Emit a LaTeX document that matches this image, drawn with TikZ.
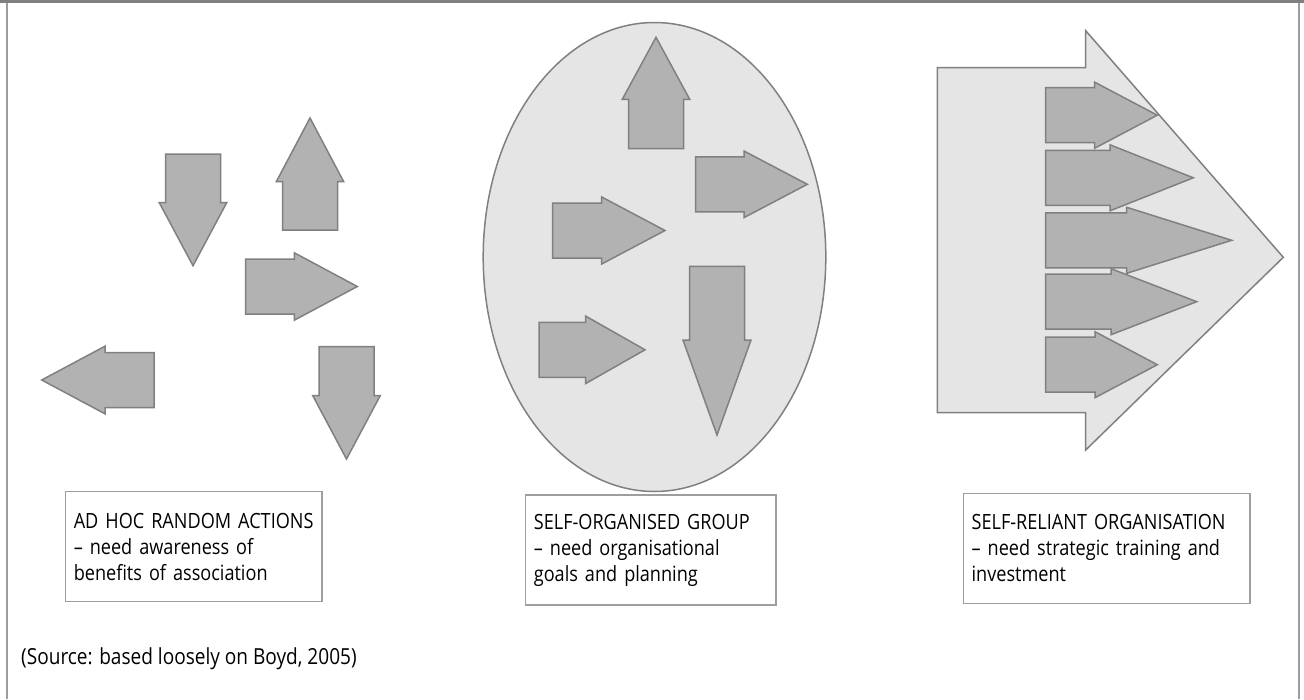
\documentclass[tikz,border=0pt]{standalone}
\usepackage{fontspec}
\setmainfont{Open Sans}[FakeStretch=0.862]
\definecolor{mgrey}{rgb}{0.5, 0.5, 0.5}
\definecolor{mfill}{rgb}{0.7, 0.7, 0.7}
\definecolor{mlight}{rgb}{0.9, 0.9, 0.9}
\definecolor{mframe}{rgb}{0.62, 0.62, 0.62}
\tikzset{blk/.style = {fill=mfill, draw=mgrey, line width=1.5pt}}
\tikzset{bigshape/.style = {fill=mlight, draw=mgrey, line width=1.5pt}}
\tikzset{caption/.style = {draw=mframe, line width=1.2pt, align=left, inner xsep=8pt,
                           minimum height=110pt, font=\fontsize{21}{26}\selectfont}}
% tail x, tail y, angle, shaft length, head length, head half width
\newcommand{\blockarrow}[6]{%
  \begin{scope}[shift={(#1,#2)}, rotate=#3]
    \draw [blk] (0,-27.5) -- (#4,-27.5) -- (#4,-#6) -- ({#4+#5},0) -- (#4,#6) -- (#4,27.5) -- (0,27.5) -- cycle;
  \end{scope}}

\begin{document}
\begin{tikzpicture}[x=1pt, y=-1pt]
      \useasboundingbox (0,0) rectangle (1304,699);

      % frame
      \draw [mframe, line width=1.5pt] (7,0) -- (7,699);
      \draw [mframe, line width=1.5pt] (1299,0) -- (1299,699);
      \draw [mgrey, line width=3pt] (0,1.5) -- (1304,1.5);

      % ad hoc actions
      \blockarrow{193}{154}{-90}{48.7}{63}{33.7}
      \blockarrow{310}{230}{90}{48.3}{63.7}{33.7}
      \blockarrow{245.7}{286.5}{0}{48.6}{63}{33.7}
      \blockarrow{154}{380}{180}{49}{63.3}{33.8}
      \blockarrow{346.5}{346.7}{-90}{49}{63.3}{33.7}

      % self-organised group
      \draw [bigshape] (654.5,257) ellipse [x radius=171.3, y radius=234.5];
      \blockarrow{656}{148.7}{90}{49.4}{62}{33.7}
      \blockarrow{695.7}{184.3}{0}{48.3}{63.3}{33.3}
      \blockarrow{552.7}{230.5}{0}{49}{63.3}{33.5}
      \blockarrow{539}{349.8}{0}{46.7}{59.3}{33.7}
      \blockarrow{717}{266.3}{-90}{73.7}{95}{34}

      % self-reliant organisation
      \draw [bigshape] (937.3,67.7) -- (1085.7,67.7) -- (1085.7,30.7) -- (1283.3,257.3)
                       -- (1085.7,450) -- (1085.7,412.7) -- (937.3,412.7) -- cycle;
      \foreach \y/\s/\l in {115.2/49/62.6, 177.8/64.3/83.3, 240.3/81/105, 301.7/65.3/85.7, 364.7/49.3/62.3} {
        \blockarrow{1045.7}{\y}{0}{\s}{\l}{33}
      }

      \node [caption, minimum width=256.5pt, text width=240pt] (adhoc) at (193.75,546.5)
            {AD HOC RANDOM ACTIONS\\– need awareness of\\benefits of association};
      \node [caption, minimum width=250.3pt, text width=234pt] (group) at (650.85,550)
            {SELF-ORGANISED GROUP\\– need organisational\\goals and planning};
      \node [caption, minimum width=286.7pt, text width=270pt] (reliant) at (1106.65,548.3)
            {SELF-RELIANT ORGANISATION\\– need strategic training and\\investment};

      \node [anchor=west, inner sep=0, font=\fontsize{22.1}{26}\selectfont] (source) at (21,659)
            {(Source: based loosely on Boyd, 2005)};
    \end{tikzpicture}
\end{document}
